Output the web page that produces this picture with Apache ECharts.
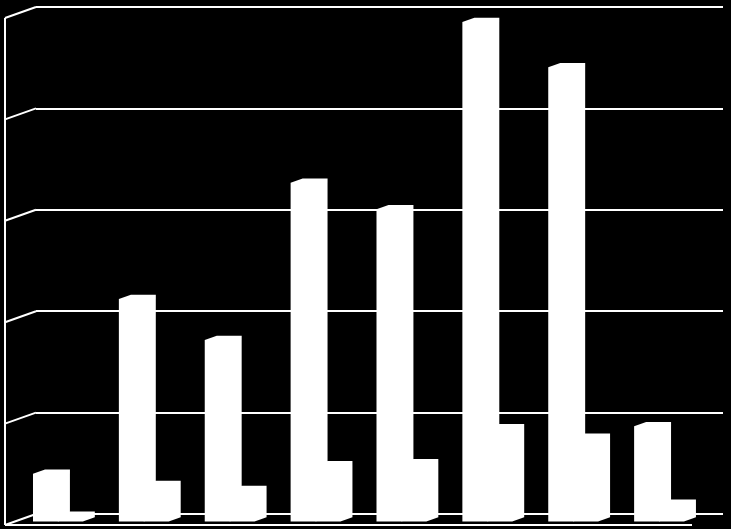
<!DOCTYPE html>
<html>
<head>
<meta charset="utf-8">
<script src="https://cdn.jsdelivr.net/npm/echarts@6/dist/echarts.min.js"></script>
<style>
html,body{margin:0;padding:0;background:#000;}
#chart{width:731px;height:529px;}
</style>
</head>
<body>
<div id="chart"></div>
<script>
// Data (arbitrary 0–100 scale, gridlines every 20)
var categories = ['1', '2', '3', '4', '5', '6', '7', '8'];
var seriesA = [9.4, 43.9, 35.8, 66.8, 61.6, 98.5, 89.6, 18.8];
var seriesB = [1.1, 7.2, 6.2, 11.1, 11.5, 18.4, 16.5, 3.5];
var gridTicks = [0, 20, 40, 60, 80, 100];

var chart = echarts.init(document.getElementById('chart'));

// 3D projection helpers (fractions of the category band width)
var WALL_DX = 0.361, WALL_RATIO = 31 / 11;
var BAR_SHIFT = 0.245; // front plane of bars relative to back wall
var BAR_W = 0.29, BAR_D = 0.14;

function barRender(seriesIndex) {
  return function (params, api) {
    var i = api.value(0), v = api.value(1);
    var band = api.size([1, 0])[0];
    var shiftX = band * BAR_SHIFT, shiftY = shiftX / WALL_RATIO;
    var base = api.coord([i, 0]);
    var top = api.coord([i, v]);
    var cx = base[0] - shiftX;
    var w = band * BAR_W;
    var x0 = cx - w + seriesIndex * w, x1 = x0 + w;
    var yb = base[1] + shiftY, yt = top[1] + shiftY;
    var dx = band * BAR_D, dy = dx / WALL_RATIO;
    return {
      type: 'polygon',
      shape: { points: [[x0, yb], [x0, yt], [x0 + dx, yt - dy], [x1 + dx, yt - dy], [x1 + dx, yb - dy], [x1, yb]] },
      style: { fill: '#ffffff', stroke: null }
    };
  };
}

function wallRender(params, api) {
  var cs = params.coordSys;
  var band = cs.width / categories.length;
  var dx = band * WALL_DX, dy = dx / WALL_RATIO;
  var v = api.value(1);
  var p = api.coord([0, v]);
  var lineStyle = { stroke: '#ffffff', lineWidth: 2 };
  var children = [{
    type: 'line',
    shape: { x1: cs.x, y1: p[1], x2: cs.x - dx, y2: p[1] + dy },
    style: lineStyle
  }];
  if (params.dataIndex === 0) {
    var bottom = cs.y + cs.height;
    children.push({
      type: 'line',
      shape: { x1: cs.x - dx, y1: cs.y + dy, x2: cs.x - dx, y2: bottom + dy },
      style: lineStyle
    });
    children.push({
      type: 'line',
      shape: { x1: cs.x - dx, y1: bottom + dy, x2: cs.x + cs.width - dx, y2: bottom + dy },
      style: lineStyle
    });
  }
  return { type: 'group', children: children };
}

chart.setOption({
  backgroundColor: '#000000',
  animation: false,
  grid: { left: 36, right: 8, top: 7, bottom: 15 },
  xAxis: {
    type: 'category',
    data: categories,
    axisLine: { show: false },
    axisTick: { show: false },
    axisLabel: { show: false },
    splitLine: { show: false }
  },
  yAxis: {
    type: 'value',
    min: 0, max: 100, interval: 20,
    axisLine: { show: false },
    axisTick: { show: false },
    axisLabel: { show: false },
    splitLine: { show: true, lineStyle: { color: '#ffffff', width: 2 } }
  },
  series: [
    {
      type: 'custom',
      name: 'walls',
      renderItem: wallRender,
      data: gridTicks.map(function (t) { return [0, t]; }),
      clip: false,
      silent: true,
      z: 1
    },
    {
      type: 'custom',
      name: 'Series A',
      renderItem: barRender(0),
      data: seriesA.map(function (v, i) { return [i, v]; }),
      clip: false,
      z: 3
    },
    {
      type: 'custom',
      name: 'Series B',
      renderItem: barRender(1),
      data: seriesB.map(function (v, i) { return [i, v]; }),
      clip: false,
      z: 4
    }
  ]
});
</script>
</body>
</html>
